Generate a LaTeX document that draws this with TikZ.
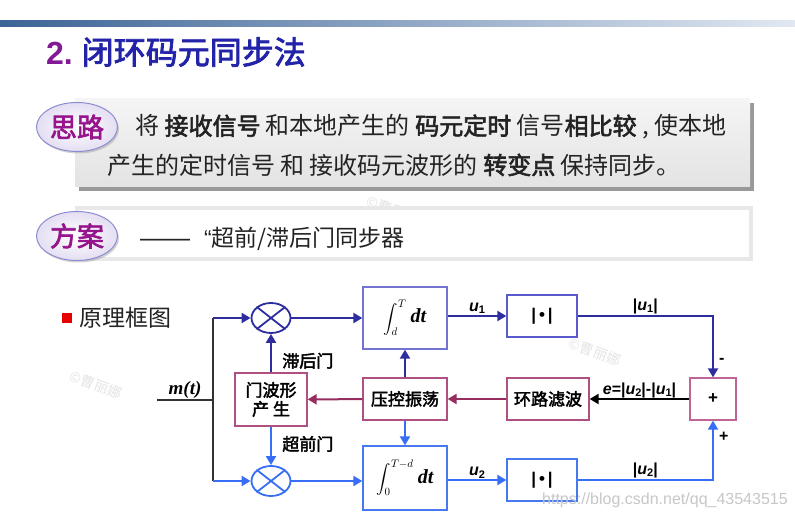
\documentclass[tikz,border=0pt]{standalone}
\usepackage{exscale}
\usepackage[no-math]{fontspec}
\setmainfont{Liberation Sans}
\newfontfamily\cjk[AutoFakeBold=2.5]{Noto Sans CJK SC}
\newfontfamily\tms{Liberation Serif}
\usetikzlibrary{arrows.meta,shapes.geometric,shadows,calc}
\newcommand\fsz[1]{\fontsize{#1}{#1}\selectfont}
\newcommand\usb[1]{{\bfseries\itshape u}\raisebox{-0.3ex}{\bfseries\fsz{11}#1}}
\definecolor{barL}{RGB}{60,100,150}
\definecolor{barR}{RGB}{225,232,242}
\definecolor{tpurp}{RGB}{130,25,150}
\definecolor{tblue}{RGB}{35,35,170}
\definecolor{ovalB}{RGB}{140,140,210}
\definecolor{ovalF}{RGB}{228,222,242}
\definecolor{ovalT}{RGB}{150,20,140}
\definecolor{bodyT}{RGB}{35,35,35}
\definecolor{topblue}{RGB}{45,45,160}
\definecolor{botblue}{RGB}{55,110,245}
\definecolor{intTop}{RGB}{115,115,210}
\definecolor{absTop}{RGB}{90,90,205}
\definecolor{botbox}{RGB}{70,120,240}
\definecolor{pinkB}{RGB}{175,80,130}
\definecolor{sumB}{RGB}{190,100,150}
\definecolor{purp}{RGB}{150,45,95}
\definecolor{darkline}{RGB}{50,50,50}
\definecolor{wmark}{RGB}{228,228,228}
\definecolor{redsq}{RGB}{230,0,0}
\begin{document}
\begin{tikzpicture}[x=1pt,y=-1pt,
  oval/.style={ellipse, minimum width=81pt, minimum height=49pt, inner sep=0pt,
    draw=ovalB, line width=1pt, inner color=white, outer color=ovalF,
    drop shadow={opacity=0.35, shadow xshift=1.5pt, shadow yshift=-2pt},
    text=ovalT, font=\cjk\bfseries\fsz{27}},
  blk/.style={inner sep=0pt, line width=1.3pt, fill=white, text=black},
  mult/.style={ellipse, minimum width=39pt, minimum height=30pt, inner sep=0pt, line width=1.8pt, fill=white},
  arr/.style={-{Triangle[length=9pt,width=10pt]}, line width=2pt},
  cjkbox/.style={font=\cjk\bfseries\fsz{17}},
  lbl/.style={font=\bfseries\fsz{16}, text=black, inner sep=1pt},
  wm/.style={text=wmark, rotate=-20, font=\cjk\fsz{14}, inner sep=0pt}
]
\useasboundingbox (0,0) rectangle (795,518);
\fill[white] (0,0) rectangle (795,518);
% header bar
\shade[left color=barL, right color=barR] (0,21) rectangle (795,26.5);
% title
\node[anchor=west, inner sep=0pt] (title) at (46,52)
  {\fsz{32}\bfseries\color{tpurp}2.~{\cjk\bfseries\color{tblue}闭环码元同步法}};
% watermarks
\node[wm] (w1) at (393,210) {©曹丽娜};
\node[wm] (w2) at (463,233) {©曹丽娜};
\node[wm] (w3) at (655,232) {©曹丽娜};
\node[wm] (w4) at (96,385) {©曹丽娜};
\node[wm] (w5) at (595,352) {©曹丽娜};
% idea box
\fill[black!40] (79,103) rectangle (754,191);
\shade[top color=black!4, bottom color=black!11] (75,99) rectangle (750,187);
\node[anchor=west, inner sep=0pt, text=bodyT] (l1) at (135,127)
  {\cjk\fsz{24}将 \textbf{接收信号} 和本地产生的 \textbf{码元定时} 信号\textbf{相比较} , 使本地};
\node[anchor=west, inner sep=0pt, text=bodyT] (l2) at (107,165)
  {\cjk\fsz{24}产生的定时信号 和 接收码元波形的 \textbf{转变点} 保持同步。};
\node[oval] (silu) at (77,127) {思路};
% scheme box
\draw[line width=3.5pt, draw=black!9, fill=white] (77,208) rectangle (751,259);
\node[anchor=west, inner sep=0pt, text=bodyT] (l3) at (140,239)
  {{\fsz{25}——}\hspace{14pt}{\fsz{23}“}{\cjk\fsz{23}超前/滞后门同步器}};
\node[oval] (fangan) at (77,236) {方案};
% principle label
\fill[redsq] (62,313) rectangle (72,323);
\node[anchor=west, inner sep=0pt, text=bodyT] (yl) at (79,318) {\cjk\fsz{23}原理框图};
% diagram nodes
\node[mult, draw=topblue] (m1) at (271,318) {};
\node[mult, draw=botblue] (m2) at (271,481) {};
\draw[topblue, line width=1.8pt] (m1.north east) -- (m1.south west) (m1.north west) -- (m1.south east);
\draw[botblue, line width=1.8pt] (m2.north east) -- (m2.south west) (m2.north west) -- (m2.south east);
\node[blk, draw=intTop, minimum width=84pt, minimum height=62pt] (i1) at (405,318) {\fsz{15}$\displaystyle\int_{d}^{T}$\ {\tms\bfseries\itshape\fsz{20}dt}};
\node[blk, draw=botbox, minimum width=84pt, minimum height=64pt] (i2) at (405,478) {\fsz{15}$\displaystyle\int_{0}^{T-d}$\ {\tms\bfseries\itshape\fsz{20}dt}};
\node[blk, draw=absTop, minimum width=70pt, minimum height=42pt, font=\bfseries\fsz{17}] (a1) at (542,316) {|\,•\,|};
\node[blk, draw=botbox, minimum width=70pt, minimum height=42pt, font=\bfseries\fsz{17}] (a2) at (542,480) {|\,•\,|};
\node[blk, draw=pinkB, minimum width=72pt, minimum height=53pt, align=center, font=\cjk\bfseries\fontsize{17}{19}\selectfont] (g) at (271,399.5) {门波形\\产\ 生};
\node[blk, draw=pinkB, minimum width=84pt, minimum height=42pt, cjkbox] (v) at (405,399) {压控振荡};
\node[blk, draw=pinkB, minimum width=82pt, minimum height=42pt, cjkbox] (lf) at (548,399) {环路滤波};
\node[blk, draw=sumB, minimum width=46pt, minimum height=42pt, font=\bfseries\fsz{17}] (s) at (713,399) {+};
% junctions
\coordinate (min) at (157,400);
\coordinate (jm) at (213,400);
\coordinate (jt) at (213,318);
\coordinate (jb) at (213,481);
\draw[darkline, line width=1.5pt] (min) -- (jm) node[midway, above=1pt, inner sep=0pt, text=black] {\tms\bfseries\itshape\fsz{19}m(t)};
\draw[darkline, line width=1.5pt] (jt) -- (jb);
% connectors
\draw[arr, topblue] (jt) -- (m1);
\draw[arr, botblue] (jb) -- (m2);
\draw[arr, topblue] (m1) -- (i1);
\draw[arr, botblue] (m2) -- (i2.west |- m2);
\draw[arr, topblue] (i1.east |- a1) -- (a1) node[midway, above, lbl] {\usb{1}};
\draw[arr, botblue] (i2.east |- a2) -- (a2) node[midway, above, lbl] {\usb{2}};
\draw[arr, topblue] (a1.east) -| (s.north)
  node[pos=0.25, above, lbl] {|\usb{1}|}
  node[pos=0.87, right=4pt, lbl] {-};
\draw[arr, botblue] (a2.east) -| (s.south)
  node[pos=0.25, above, lbl] {|\usb{2}|}
  node[pos=0.86, right=4pt, lbl] {+};
\draw[arr, black] (s) -- (lf) node[midway, above=-1pt, lbl] {{\itshape e}=|\usb{2}|-|\usb{1}|};
\draw[arr, purp] (lf) -- (v);
\draw[arr, purp] (v) -- (g);
\draw[arr, topblue] (v) -- (i1);
\draw[arr, botblue] (v) -- (i2);
\draw[arr, topblue] (g) -- (m1) node[pos=0.3, right=7pt, cjkbox, text=black] {滞后门};
\draw[arr, botblue] (g) -- (m2) node[pos=0.45, right=7pt, cjkbox, text=black] {超前门};
% url watermark
\node[anchor=west, inner sep=0pt, text=black!22, font=\fsz{16}] (url) at (542,500) {https://blog.csdn.net/qq\_43543515};
\end{tikzpicture}
\end{document}
